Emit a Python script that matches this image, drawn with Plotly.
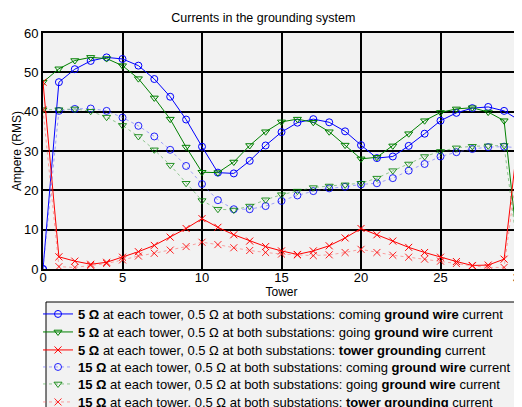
import plotly.graph_objects as go

towers = list(range(31))

coming_5 = [0, 47.5, 50.8, 52.9, 53.8, 53.4, 51.7, 48.3, 43.8, 38.0, 31.1, 24.5, 24.3, 27.5, 31.4, 34.8,
            37.2, 38.1, 37.3, 35.0, 31.5, 28.2, 28.6, 31.3, 34.4, 37.7, 39.7, 40.9, 41.2, 40.2, 37.7]
going_5 = [47.5, 50.9, 53.0, 53.8, 53.5, 51.7, 48.4, 43.5, 38.1, 31.0, 24.6, 24.5, 27.2, 31.4, 34.9, 37.4,
           38.1, 37.3, 34.9, 31.5, 28.0, 28.4, 31.3, 34.4, 37.7, 39.8, 40.7, 41.0, 39.9, 37.7, 0]
tower_5 = [47.5, 3.1, 2.0, 1.2, 1.7, 3.0, 4.4, 6.0, 8.1, 10.3, 12.8, 10.6, 8.7, 7.1, 5.7, 4.6,
           3.7, 4.6, 5.9, 7.9, 10.3, 8.7, 7.1, 5.5, 4.2, 3.0, 1.9, 0.9, 1.0, 2.5, 37.7]
coming_15 = [0, 40.2, 40.7, 40.8, 40.2, 38.5, 36.4, 33.7, 30.3, 26.2, 21.6, 17.5, 15.2, 15.2, 16.0, 17.3,
             18.7, 19.8, 20.5, 20.9, 21.5, 21.8, 23.1, 25.0, 26.7, 28.6, 29.7, 30.5, 31.0, 31.1, 30.8]
going_15 = [40.5, 40.5, 40.7, 40.1, 38.6, 36.5, 33.7, 30.3, 26.4, 21.8, 17.4, 15.2, 15.0, 16.0, 17.6, 18.9,
            19.8, 20.7, 21.1, 21.4, 21.8, 23.1, 25.0, 26.7, 28.6, 29.9, 30.8, 31.2, 31.3, 31.4, 0]
tower_15 = [40.5, 0.6, 0.4, 0.9, 1.4, 2.3, 3.3, 4.0, 4.8, 5.7, 6.8, 6.2, 5.4, 4.7, 4.2, 3.8,
            3.6, 3.4, 3.6, 4.2, 5.0, 4.2, 3.5, 3.0, 2.5, 2.0, 1.4, 0.8, 0.4, 0.4, 30.8]

x_ticks = [0, 5, 10, 15, 20, 25, 30]
y_ticks = [0, 10, 20, 30, 40, 50, 60]

names = [
    "<b>5 Ω</b> at each tower, 0.5 Ω at both substations: coming <b>ground wire</b> current",
    "<b>5 Ω</b> at each tower, 0.5 Ω at both substations: going <b>ground wire</b> current",
    "<b>5 Ω</b> at each tower, 0.5 Ω at both substations: <b>tower grounding</b> current",
    "<b>15 Ω</b> at each tower, 0.5 Ω at both substations: coming <b>ground wire</b> current",
    "<b>15 Ω</b> at each tower, 0.5 Ω at both substations: going <b>ground wire</b> current",
    "<b>15 Ω</b> at each tower, 0.5 Ω at both substations: <b>tower grounding</b> current",
]

series = [coming_5, going_5, tower_5, coming_15, going_15, tower_15]
colors = ["#0000ff", "#008000", "#ff0000"]
pale = ["rgba(90,90,255,0.55)", "rgba(60,160,60,0.55)", "rgba(255,90,90,0.55)"]
symbols = ["circle-open", "triangle-down-open", "x-thin-open"]

# geometry (figure pixels; page has an 8px body margin)
W, H = 514, 399
ML, MR, MT, MB = 35, 2, 25, 138
PW, PH = W - ML - MR, H - MT - MB


def px_x(x):
    return (x - ML) / PW


def px_y(y):
    return (H - MB - y) / PH


row_centers = [306, 324, 342, 359, 376, 394]

fig = go.Figure()
for i, (ys, name) in enumerate(zip(series, names)):
    k = i % 3
    faded = i >= 3
    lg = "legend" if i == 0 else f"legend{i + 1}"
    fig.add_trace(go.Scatter(
        x=towers, y=ys, name=name, mode="lines+markers", legend=lg,
        line=dict(color=pale[k] if faded else colors[k], width=1,
                  dash="dot" if faded else "solid"),
        marker=dict(symbol=symbols[k], size=7, color=colors[k],
                    line=dict(width=1, color=colors[k]),
                    opacity=0.85 if faded else 1),
    ))

legend_layout = {}
for i, yc in enumerate(row_centers):
    key = "legend" if i == 0 else f"legend{i + 1}"
    legend_layout[key] = dict(
        x=px_x(30), xanchor="left", y=px_y(yc), yanchor="middle",
        bgcolor="rgba(0,0,0,0)", borderwidth=0,
        font=dict(size=13), itemwidth=30,
    )

fig.update_layout(
    width=W, height=H,
    margin=dict(l=ML, r=MR, t=MT, b=MB, autoexpand=False),
    paper_bgcolor="white", plot_bgcolor="#f2f2f2",
    font=dict(family="Liberation Sans, Arial, sans-serif", size=12, color="black"),
    title=dict(text="Currents in the grounding system", x=px_x(272), xanchor="center",
               y=1 - 10 / H, yanchor="middle", font=dict(size=12.5)),
    showlegend=True,
    shapes=[dict(type="rect", xref="paper", yref="paper",
                 x0=px_x(38), x1=px_x(510), y0=px_y(294), y1=px_y(420),
                 line=dict(color="black", width=1), fillcolor="#f2f2f2", layer="below")],
    xaxis=dict(range=[0, 30], tickvals=x_ticks, ticktext=[str(v) for v in x_ticks],
               showgrid=True, gridcolor="black", gridwidth=1.5, zeroline=False,
               showline=True, linecolor="black", linewidth=2, mirror=True,
               ticks="", ticklen=0, ticklabelstandoff=-5, ticklabeloverflow="allow",
               tickfont=dict(size=13), automargin=False,
               title=dict(text="Tower", standoff=2, font=dict(size=12))),
    yaxis=dict(range=[0, 60], tickvals=y_ticks, ticktext=[str(v) for v in y_ticks],
               showgrid=True, gridcolor="black", gridwidth=1.5, zeroline=False,
               showline=True, linecolor="black", linewidth=2, mirror=True,
               ticks="", ticklen=0, ticklabeloverflow="allow",
               tickfont=dict(size=13), automargin=False,
               title=dict(text="Ampere (RMS)", standoff=0, font=dict(size=12))),
    **legend_layout,
)

fig.write_html("out.html")
